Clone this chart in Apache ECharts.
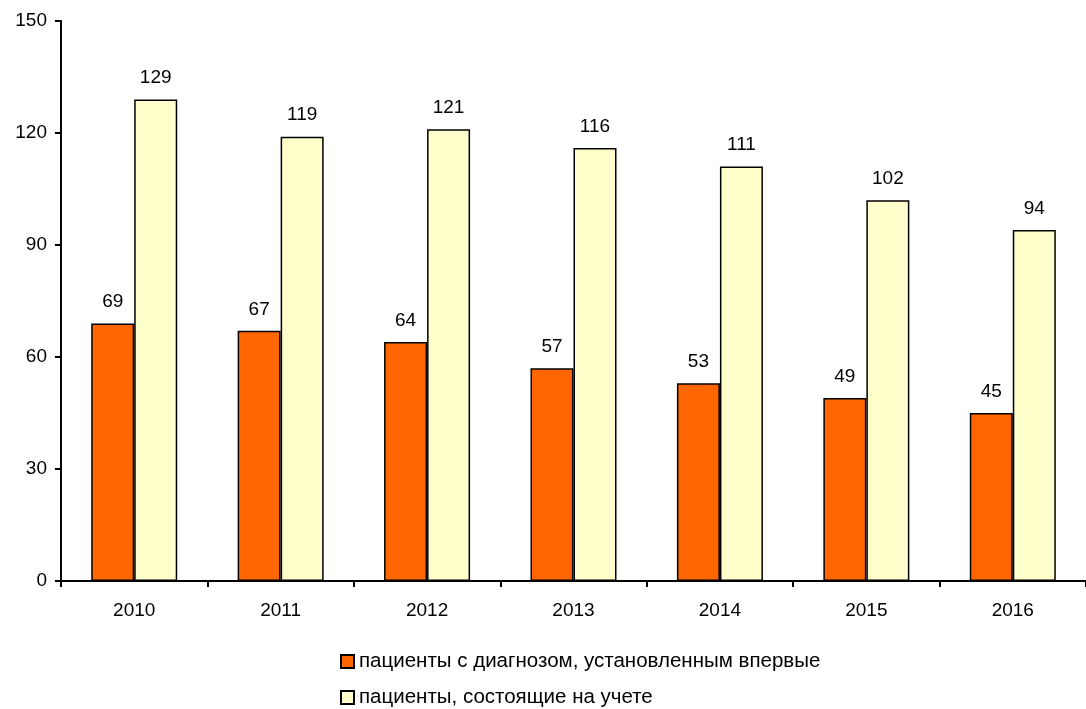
<!DOCTYPE html>
<html><head><meta charset="utf-8">
<script src="https://cdn.jsdelivr.net/npm/echarts@6/dist/echarts.min.js"></script>
<style>html,body{margin:0;padding:0;background:#fff}#c{width:1086px;height:709px}</style>
</head><body><div id="c"></div>
<script>
const categories = ['2010','2011','2012','2013','2014','2015','2016'];
const newPatients = [69,67,64,57,53,49,45];
const registered = [129,119,121,116,111,102,94];
const seriesNames = ['пациенты с диагнозом, установленным впервые','пациенты, состоящие на учете'];
const yTicks = {min:0, max:150, interval:30};

const font = 'Liberation Sans, Arial, sans-serif';
const chart = echarts.init(document.getElementById('c'), null, {renderer:'canvas'});
const lbl = {show:true, position:'top', distance:12, color:'#000', fontSize:19, fontFamily:font};
const legendBase = {
  orient:'vertical', left:340, itemWidth:13, itemHeight:13, icon:'rect', padding:0,
  itemStyle:{borderWidth:2, borderColor:'#000'},
  textStyle:{fontSize:20.5, fontFamily:font, color:'#000', padding:[0,0,0,0]}
};
chart.setOption({
  animation:false,
  backgroundColor:'#fff',
  grid:{left:61, right:0, top:21, bottom:128, containLabel:false},
  legend:[
    Object.assign({}, legendBase, {top:651, data:[seriesNames[0]]}),
    Object.assign({}, legendBase, {top:687, data:[seriesNames[1]]})
  ],
  xAxis:{
    type:'category', data:categories,
    axisLine:{lineStyle:{color:'#000', width:2}},
    axisTick:{show:true, length:6, lineStyle:{color:'#000', width:2}},
    axisLabel:{color:'#000', fontSize:19, fontFamily:font, margin:20}
  },
  yAxis:{
    type:'value', min:yTicks.min, max:yTicks.max, interval:yTicks.interval,
    axisLine:{show:true, lineStyle:{color:'#000', width:2}},
    axisTick:{show:true, length:6, lineStyle:{color:'#000', width:2}},
    splitLine:{show:false},
    axisLabel:{color:'#000', fontSize:19, fontFamily:font, margin:14}
  },
  series:[
    {name:seriesNames[0], type:'bar', data:newPatients, barWidth:43, barGap:'0%',
     itemStyle:{color:'#FF6600', borderColor:'#000', borderWidth:1.5}, label:lbl},
    {name:seriesNames[1], type:'bar', data:registered, barWidth:43, barGap:'0%',
     itemStyle:{color:'#FFFFCC', borderColor:'#000', borderWidth:1.5}, label:lbl}
  ]
});
</script></body></html>
